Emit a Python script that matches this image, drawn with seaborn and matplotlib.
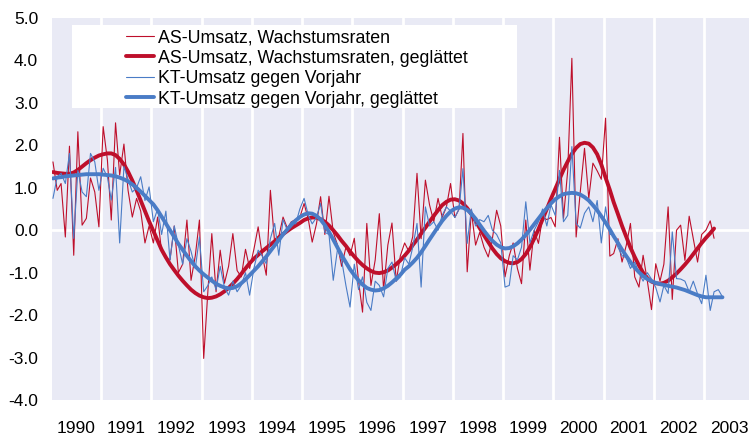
import matplotlib
matplotlib.use('Agg')
import matplotlib.pyplot as plt
import matplotlib.dates as mdates
from matplotlib.patches import Rectangle
from matplotlib.ticker import FormatStrFormatter, NullFormatter
import pandas as pd
import seaborn as sns

# monthly values, Jan 1990 onwards (one row per year)
as_raw = [
    1.61, 0.94, 1.10, -0.16, 1.98, -0.59, 2.32, 0.12, 0.28, 1.23, 0.90, 0.08,
    2.44, 1.65, 0.24, 2.53, 1.30, 2.03, 0.94, 0.31, 0.75, 0.45, -0.30, 0.10,
    -0.30, 0.31, -0.50, -0.65, -0.70, 0.10, -1.00, -0.80, 0.24, -1.18, -0.60, 0.24,
    -3.02, -1.41, -0.08, -1.45, -0.47, -1.25, -0.85, -0.08, -0.95, -1.10, -0.45, -0.90,
    -0.45, 0.08, -0.55, -1.06, 0.94, -0.30, -0.15, 0.31, 0.05, 0.20, 0.25, 0.30,
    0.63, 0.25, -0.28, 0.15, 0.79, -0.10, 0.80, -0.05, -0.35, -0.85, -0.40, -0.60,
    -0.19, -1.20, -1.93, 0.16, -1.30, -0.70, 0.39, -1.40, -0.35, 0.17, -1.20, -0.60,
    -0.30, -0.50, -0.15, 1.34, -0.20, 1.18, 0.60, 0.20, 0.75, 0.30, 0.55, 1.10,
    0.30, 0.50, 2.28, -0.98, 0.45, -0.35, -0.05, -0.40, -0.63, -0.20, 0.47, 0.10,
    -1.10, -0.60, -0.30, -0.90, -1.26, 0.24, -0.94, 0.00, -0.31, 0.31, 0.25, 0.30,
    0.08, 2.19, 0.28, 1.41, 4.05, -0.16, 0.90, 1.93, 0.75, 1.58, 1.40, 1.20,
    2.64, -0.61, -0.55, -0.20, -0.75, -0.35, 0.16, -1.10, -1.34, -0.59, -1.20, -1.87,
    -0.79, -1.20, -0.80, 0.55, -1.63, 0.00, 0.12, -0.71, 0.33, -0.20, -0.75, -0.10,
    0.00, 0.22, -0.19,
]

as_smooth = [
    1.37, 1.35, 1.34, 1.33, 1.33, 1.36, 1.42, 1.50, 1.58, 1.65, 1.71, 1.76,
    1.79, 1.81, 1.81, 1.77, 1.68, 1.55, 1.38, 1.17, 0.94, 0.70, 0.45, 0.21,
    -0.02, -0.25, -0.46, -0.64, -0.80, -0.94, -1.07, -1.19, -1.30, -1.40, -1.48, -1.54,
    -1.58, -1.60, -1.59, -1.56, -1.51, -1.44, -1.36, -1.26, -1.15, -1.03, -0.90, -0.78,
    -0.67, -0.58, -0.50, -0.42, -0.34, -0.26, -0.17, -0.09, -0.02, 0.05, 0.11, 0.17,
    0.24, 0.28, 0.30, 0.30, 0.26, 0.20, 0.11, 0.00, -0.12, -0.25, -0.37, -0.50,
    -0.62, -0.73, -0.82, -0.90, -0.96, -1.00, -1.01, -0.99, -0.95, -0.88, -0.80, -0.71,
    -0.60, -0.48, -0.35, -0.22, -0.08, 0.06, 0.20, 0.34, 0.47, 0.59, 0.67, 0.72,
    0.73, 0.70, 0.63, 0.52, 0.38, 0.22, 0.05, -0.12, -0.28, -0.43, -0.56, -0.66,
    -0.73, -0.77, -0.78, -0.75, -0.68, -0.56, -0.40, -0.20, 0.02, 0.26, 0.50, 0.74,
    0.97, 1.20, 1.42, 1.62, 1.80, 1.94, 2.03, 2.06, 2.04, 1.95, 1.79, 1.55,
    1.24, 0.95, 0.66, 0.38, 0.10, -0.16, -0.41, -0.63, -0.83, -1.00, -1.13, -1.21,
    -1.25, -1.26, -1.24, -1.19, -1.11, -1.02, -0.92, -0.81, -0.69, -0.56, -0.43, -0.30,
    -0.18, -0.07, 0.04,
]

kt_raw = [
    0.75, 1.26, 1.34, 1.10, 1.81, -0.19, 1.41, 0.90, 0.79, 1.81, 1.61, 0.94,
    1.46, 1.25, 0.71, 1.48, -0.30, 1.50, 1.20, 0.90, 1.00, 1.26, 0.70, 1.02,
    0.20, 0.50, -0.10, 0.45, -0.70, 0.10, -0.35, -0.80, -0.20, -0.50, -0.90, -0.16,
    -1.45, -1.30, -1.10, -1.40, -0.85, -1.35, -1.53, -1.20, -1.45, -1.30, -1.00, -1.53,
    -0.90, -0.47, -0.60, -0.79, -0.20, 0.16, -0.59, 0.25, 0.00, 0.20, 0.15, 0.50,
    0.75, 0.35, 0.15, 0.30, 0.63, -0.05, -0.10, -1.18, -0.45, -0.70, -1.30, -1.81,
    -0.80, -1.40, -1.10, -1.70, -1.89, -1.20, -1.30, -1.57, -0.90, -0.75, -1.20, -1.10,
    -0.65, -0.80, -0.40, 0.16, -1.34, 0.55, 0.10, 0.20, 0.00, 0.35, 0.55, 0.45,
    0.30, 0.50, 1.45, -0.31, 0.50, 0.10, 0.25, 0.20, 0.35, 0.00, -0.10, -0.30,
    -1.34, -1.30, -0.60, -0.70, -0.40, 0.67, -0.30, 0.00, 0.20, 0.50, 0.10, 0.60,
    0.35, 1.41, 0.20, 0.35, 1.97, 0.16, 0.05, 0.40, 0.55, 0.20, 0.70, -0.30,
    0.55, -0.10, -0.10, -0.40, -0.60, -0.65, -0.90, -0.75, -1.00, -1.20, -1.00, -1.15,
    -1.35, -1.69, -1.30, -1.49, -0.04, -1.14, -1.15, -1.20, -1.45, -1.20, -1.50, -1.73,
    -1.06, -1.89, -1.45, -1.40, -1.57,
]

kt_smooth = [
    1.22, 1.24, 1.25, 1.27, 1.28, 1.29, 1.30, 1.31, 1.32, 1.32, 1.32, 1.32,
    1.31, 1.30, 1.29, 1.27, 1.24, 1.20, 1.15, 1.08, 1.00, 0.91, 0.81, 0.71,
    0.61, 0.47, 0.32, 0.16, 0.00, -0.16, -0.32, -0.46, -0.60, -0.73, -0.85, -0.95,
    -1.04, -1.12, -1.19, -1.26, -1.31, -1.35, -1.37, -1.36, -1.32, -1.25, -1.16, -1.06,
    -0.96, -0.85, -0.74, -0.62, -0.49, -0.36, -0.23, -0.10, 0.02, 0.13, 0.23, 0.31,
    0.37, 0.40, 0.39, 0.34, 0.25, 0.12, -0.04, -0.22, -0.41, -0.59, -0.76, -0.92,
    -1.06, -1.18, -1.28, -1.36, -1.40, -1.42, -1.41, -1.37, -1.31, -1.23, -1.14, -1.05,
    -0.93, -0.85, -0.76, -0.65, -0.52, -0.37, -0.22, -0.07, 0.08, 0.22, 0.34, 0.44,
    0.51, 0.54, 0.53, 0.48, 0.39, 0.27, 0.13, -0.01, -0.14, -0.25, -0.34, -0.40,
    -0.43, -0.42, -0.38, -0.31, -0.22, -0.11, 0.01, 0.14, 0.27, 0.40, 0.52, 0.63,
    0.73, 0.80, 0.85, 0.87, 0.88, 0.87, 0.84, 0.78, 0.70, 0.59, 0.47, 0.33,
    0.18, 0.02, -0.14, -0.30, -0.46, -0.61, -0.75, -0.88, -0.99, -1.08, -1.15, -1.20,
    -1.24, -1.27, -1.29, -1.31, -1.33, -1.35, -1.38, -1.41, -1.45, -1.49, -1.53, -1.56,
    -1.58, -1.58, -1.58, -1.58, -1.58,
]

labels = [
    'AS-Umsatz, Wachstumsraten',
    'AS-Umsatz, Wachstumsraten, geglättet',
    'KT-Umsatz gegen Vorjahr',
    'KT-Umsatz gegen Vorjahr, geglättet',
]

red = '#BE0F2B'
blue = '#4A7CC6'


def months(n):
    # mid-month dates starting Jan 1990
    return pd.date_range('1990-01-01', periods=n, freq='MS') + pd.Timedelta(days=14)


sns.set_theme(style='darkgrid')
plt.rcParams['font.family'] = ['Liberation Sans', 'DejaVu Sans']

fig = plt.figure(figsize=(7.49, 4.36), dpi=100)
ax = fig.add_axes([52 / 749, 36 / 436, 697 / 749, 382 / 436])
ax.set_facecolor('#E9EAF5')
ax.grid(False)

sns.lineplot(x=months(len(as_raw)), y=as_raw, ax=ax, color=red, linewidth=0.8, label=labels[0])
sns.lineplot(x=months(len(as_smooth)), y=as_smooth, ax=ax, color=red, linewidth=2.8, label=labels[1])
sns.lineplot(x=months(len(kt_raw)), y=kt_raw, ax=ax, color=blue, linewidth=0.8, label=labels[2])
sns.lineplot(x=months(len(kt_smooth)), y=kt_smooth, ax=ax, color=blue, linewidth=2.8, label=labels[3])

ax.set_xlim(pd.Timestamp('1990-01-08'), pd.Timestamp('2003-11-24'))
ax.set_ylim(-4, 5)
ax.set_yticks(range(-4, 6))
ax.yaxis.set_major_formatter(FormatStrFormatter('%.1f'))

# gridlines at year boundaries, labels in the middle of each year
ax.xaxis.set_major_locator(mdates.YearLocator())
ax.xaxis.set_major_formatter(NullFormatter())
ax.xaxis.set_minor_locator(mdates.YearLocator(month=7))
ax.xaxis.set_minor_formatter(mdates.DateFormatter('%Y'))
ax.grid(axis='x', which='major', color='white', linewidth=2)
ax.axhline(0, color='white', linewidth=2, zorder=1)
ax.set_axisbelow(True)

ax.tick_params(axis='both', which='both', length=0, labelsize=12.5, colors='black')
ax.tick_params(axis='x', which='minor', pad=15)
ax.tick_params(axis='y', pad=10)
ax.set_xlabel('')
ax.set_ylabel('')
for s in ax.spines.values():
    s.set_visible(False)

# white legend box
box = Rectangle((20 / 697, 292 / 382), 445 / 697, 83 / 382, transform=ax.transAxes,
                facecolor='white', edgecolor='none', zorder=3)
ax.add_patch(box)
leg = ax.legend(loc='upper left', bbox_to_anchor=(74 / 697, 371 / 382), frameon=False,
                borderpad=0, borderaxespad=0, handlelength=1.55, handletextpad=0.25,
                labelspacing=0.2, fontsize=12.8)
leg.set_zorder(4)
for t in leg.get_texts():
    t.set_color('black')

fig.savefig('out.png', dpi=100)
